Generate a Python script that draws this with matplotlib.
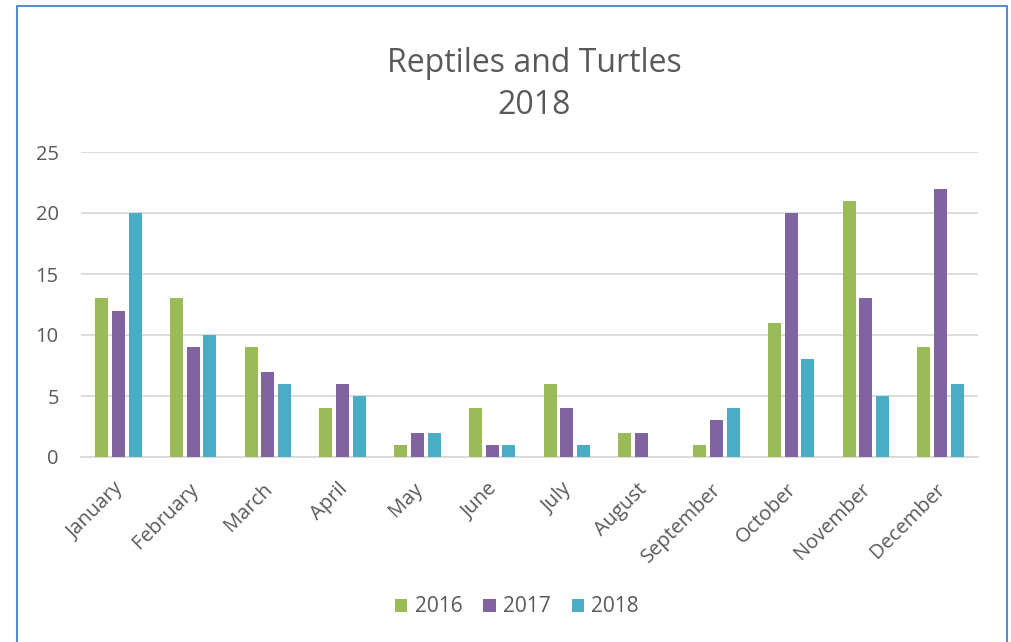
import numpy as np
import matplotlib
matplotlib.use('Agg')
from matplotlib import pyplot as plt
from matplotlib.patches import Rectangle
from matplotlib.transforms import ScaledTranslation

# data
months = ['January', 'February', 'March', 'April', 'May', 'June', 'July',
          'August', 'September', 'October', 'November', 'December']
y2016 = [13, 13, 9, 4, 1, 4, 6, 2, 1, 11, 21, 9]
y2017 = [12, 9, 7, 6, 2, 1, 4, 2, 3, 20, 13, 22]
y2018 = [20, 10, 6, 5, 2, 1, 1, 0, 4, 8, 5, 6]

plt.rcParams['font.family'] = ['Open Sans', 'DejaVu Sans']
grey = '#595959'

fig = plt.figure(figsize=(10.11, 6.42), dpi=100)
ax = fig.add_axes([81 / 1011, 1 - 457 / 642, (978 - 81) / 1011, (457 - 152) / 642])

x = np.arange(len(months))
w = 0.175
off = 0.224
ax.bar(x - off, y2016, w, color='#9BBB59', label='2016', zorder=3)
ax.bar(x, y2017, w, color='#8064A2', label='2017', zorder=3)
ax.bar(x + off, y2018, w, color='#4BACC6', label='2018', zorder=3)

ax.set_xlim(-0.5, len(months) - 0.5)
ax.set_ylim(0, 25)
ax.set_yticks(range(0, 26, 5))
ax.yaxis.grid(True, color='#D9D9D9', linewidth=1.3, zorder=0)
for s in ['top', 'right', 'left']:
    ax.spines[s].set_visible(False)
ax.spines['bottom'].set_color('#D9D9D9')
ax.spines['bottom'].set_linewidth(1.3)
ax.tick_params(axis='both', length=0, labelsize=14.5, labelcolor=grey)
ax.tick_params(axis='y', pad=16)
ax.tick_params(axis='x', pad=16)
ax.set_xticks(x)
ax.set_xticklabels(months, rotation=45, ha='right', rotation_mode='anchor')
shift = ScaledTranslation(-5 / 100, 0, fig.dpi_scale_trans)
for lab in ax.get_xticklabels():
    lab.set_transform(lab.get_transform() + shift)

fig.text(534 / 1011, 1 - 63 / 642, 'Reptiles and Turtles', ha='center', va='center',
         fontsize=23, color=grey)
fig.text(534 / 1011, 1 - 105 / 642, '2018', ha='center', va='center',
         fontsize=23, color=grey)

fig.legend(loc='center', bbox_to_anchor=(517 / 1011, 1 - 607 / 642), ncol=3,
           frameon=False, fontsize=15, labelcolor=grey, handlelength=0.6,
           handleheight=0.6, columnspacing=1.0, handletextpad=0.35)

fig.patches.append(Rectangle((17 / 1011, -0.1), (1007 - 17) / 1011, 1.1 - 6 / 642,
                             transform=fig.transFigure, fill=False,
                             edgecolor='#5B8BD0', linewidth=1.5, clip_on=False))

fig.savefig('out.png', dpi=100)
